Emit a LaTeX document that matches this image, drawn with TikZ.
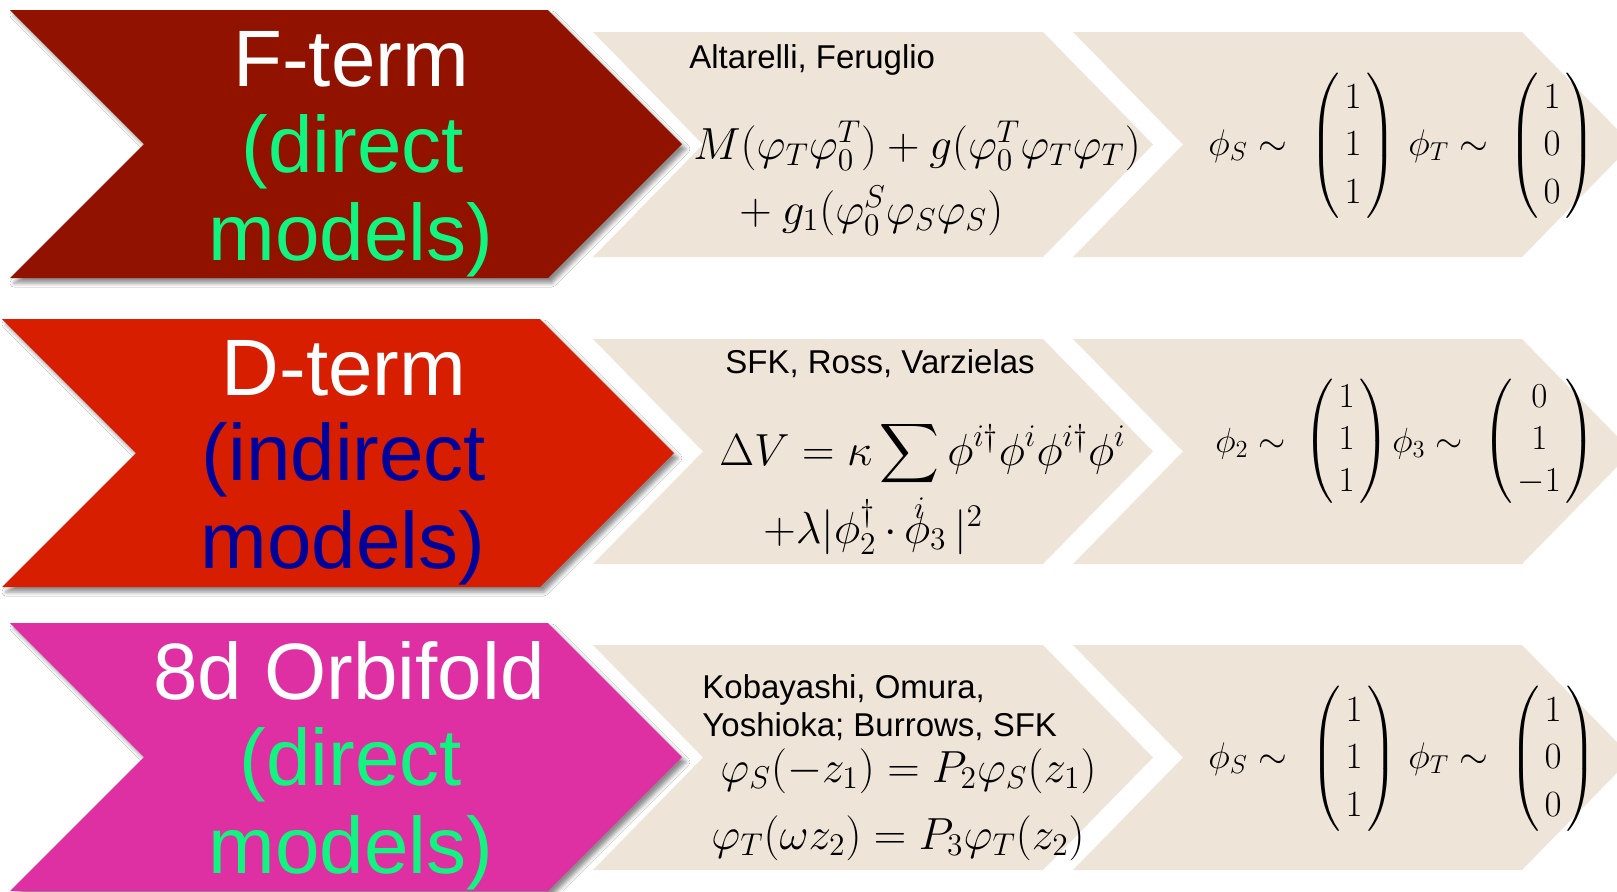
\RequirePackage{fix-cm}
\documentclass[tikz,border=0pt]{standalone}
\usepackage{amsmath,mathtools}
\usepackage[no-math]{fontspec}
\setmainfont{Liberation Sans}
\usetikzlibrary{shadows.blur}
\definecolor{rowA}{RGB}{146,18,0}
\definecolor{rowB}{RGB}{215,30,0}
\definecolor{rowC}{RGB}{222,48,163}
\definecolor{beige}{RGB}{239,228,216}
\definecolor{mint}{RGB}{16,245,128}
\definecolor{navy}{RGB}{0,0,155}
\newcommand{\chevpath}[5]{% x-left, y-top, width, height, depth
  (#1,#2) -- ++(#3,0) -- ++(#5,#4/2) -- ++(-#5,#4/2) -- ++(-#3,0) -- ++(#5,-#4/2) -- cycle}
\newcommand{\colvec}[3]{\left(\begin{array}{@{\hspace{2.5pt}}c@{\hspace{2.5pt}}}#1\\#2\\#3\end{array}\right)}
\tikzset{
  bigtxt/.style={font=\fontsize{40}{44}\selectfont, anchor=base, inner sep=0pt},
  authtxt/.style={font=\fontsize{16.5}{19}\selectfont, anchor=base west, inner sep=0pt, text=black},
  eqtxt/.style={font=\fontsize{22.5}{27}\selectfont, anchor=base west, inner sep=0pt},
  vecA/.style={font=\fontsize{18.5}{22.2}\selectfont\def\arraystretch{1.07}, inner sep=0pt},
  vecB/.style={font=\fontsize{17.5}{21}\selectfont, inner sep=0pt},
  mainshadow/.style={blur shadow={shadow xshift=2pt, shadow yshift=-2.5pt, shadow blur radius=2pt, shadow opacity=45}},
}
\begin{document}
\begin{tikzpicture}[x=0.5pt,y=-0.5pt]
\useasboundingbox (0,0) rectangle (1617,891);
\clip (0,0) rectangle (1617,891);
\fill[white] (0,0) rectangle (1617,891);
% beige chevrons
\fill[beige] \chevpath{593}{32}{450}{225}{110};
\fill[beige] \chevpath{1073}{32}{449}{225}{110};
\fill[beige] \chevpath{593}{339}{450}{225}{110};
\fill[beige] \chevpath{1073}{339}{449}{225}{110};
\fill[beige] \chevpath{593}{645}{450}{225}{110};
\fill[beige] \chevpath{1073}{645}{449}{225}{110};
% main chevrons
\fill[rowA, mainshadow] \chevpath{10}{10}{538}{268}{134};
\fill[rowB, mainshadow] \chevpath{2}{319}{538}{268}{134};
\fill[rowC, mainshadow] \chevpath{10}{623}{538}{268}{134};
% row 1
\node[bigtxt, text=white] (t1a) at (351,86) {F-term};
\node[bigtxt, text=mint] (t1b) at (353,172) {(direct};
\node[bigtxt, text=mint] (t1c) at (351,260) {models)};
\node[authtxt] (a1) at (689,68) {Altarelli, Feruglio};
\node[eqtxt] (e1a) at (693,159) {$M(\varphi_T\varphi_0^T)+g(\varphi_0^T\varphi_T\varphi_T)$};
\node[eqtxt] (e1b) at (739,224) {$+\:g_1(\varphi_0^S\varphi_S\varphi_S)$};
\node[vecA, anchor=base west] (l1a) at (1208,155) {$\phi_S\sim$};
\node[vecA, anchor=west] (m1a) at (1309,146) {$\colvec{1}{1}{1}$};
\node[vecA, anchor=base west] (l1b) at (1408,155) {$\phi_T\sim$};
\node[vecA, anchor=west] (m1b) at (1508,146) {$\colvec{1}{0}{0}$};
% row 2
\node[bigtxt, text=white] (t2a) at (344,395) {D-term};
\node[bigtxt, text=navy] (t2b) at (344,480) {(indirect};
\node[bigtxt, text=navy] (t2c) at (343,568) {models)};
\node[authtxt] (a2) at (725,373) {SFK, Ross, Varzielas};
\node[eqtxt] (e2a) at (719,465) {$\displaystyle\Delta V=\kappa\sum\phi^{i\dagger}\phi^i\phi^{i\dagger}\phi^i$};
\node[eqtxt] (e2b) at (763,543) {$+\lambda|\phi_2^\dagger\,\mathord{\cdot}\,\mathrlap{\mspace{4mu}\raisebox{0.55em}{$\scriptstyle i$}}\phi_3\,|^2$};
\node[vecB, anchor=base west] (l2a) at (1215,452) {$\phi_2\sim$};
\node[vecB, anchor=west] (m2a) at (1303,441) {$\colvec{1}{1}{1}$};
\node[vecB, anchor=base west] (l2b) at (1392,452) {$\phi_3\sim$};
\node[vecB, anchor=west] (m2b) at (1482,441) {$\colvec{0}{1}{-1}$};
% row 3
\node[bigtxt, text=white] (t3a) at (349,699) {8d Orbifold};
\node[bigtxt, text=mint] (t3b) at (351,785) {(direct};
\node[bigtxt, text=mint] (t3c) at (351,873) {models)};
\node[authtxt] (a3a) at (702,698) {Kobayashi, Omura,};
\node[authtxt] (a3b) at (702,736) {Yoshioka; Burrows, SFK};
\node[eqtxt] (e3a) at (720,782) {$\varphi_S(-z_1)=P_2\varphi_S(z_1)$};
\node[eqtxt] (e3b) at (711,849) {$\varphi_T(\omega z_2)=P_3\varphi_T(z_2)$};
\node[vecA, anchor=base west] (l3a) at (1208,768) {$\phi_S\sim$};
\node[vecA, anchor=west] (m3a) at (1310,759) {$\colvec{1}{1}{1}$};
\node[vecA, anchor=base west] (l3b) at (1408,768) {$\phi_T\sim$};
\node[vecA, anchor=west] (m3b) at (1509,759) {$\colvec{1}{0}{0}$};
\end{tikzpicture}
\end{document}
